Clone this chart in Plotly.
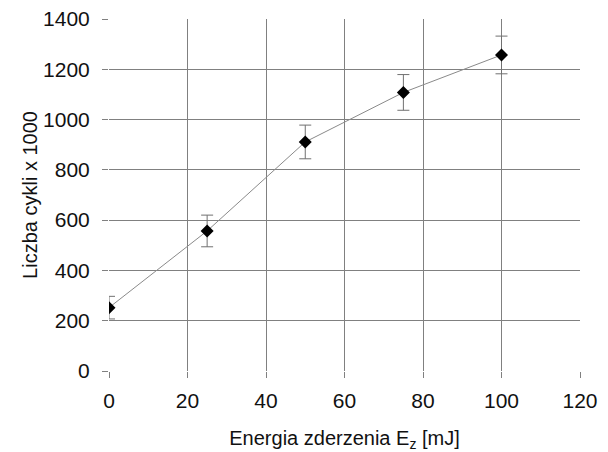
import plotly.graph_objects as go

energy = [0, 25, 50, 75, 100]
cycles = [252, 557, 911, 1108, 1257]
err = [45, 63, 67, 71, 75]

x_ticks = [0, 20, 40, 60, 80, 100, 120]
y_ticks = [0, 200, 400, 600, 800, 1000, 1200, 1400]

fig = go.Figure()
fig.add_trace(go.Scatter(
    x=energy, y=cycles, mode="lines+markers",
    line=dict(color="#8a8a8a", width=1),
    marker=dict(symbol="diamond", size=10, color="black"),
    error_y=dict(type="data", array=err, visible=True, color="#707070", thickness=1, width=6),
    showlegend=False,
))

font = dict(family="Liberation Sans, Arial, sans-serif", size=21, color="#111111")
fig.update_layout(
    width=608, height=452,
    margin=dict(l=109, r=28, t=19, b=81),
    paper_bgcolor="white", plot_bgcolor="white",
    font=font,
    xaxis=dict(
        range=[0, 120], tickvals=x_ticks, ticktext=[str(v) for v in x_ticks],
        showgrid=True, gridcolor="#808080", gridwidth=1,
        zeroline=False, showline=False, automargin=False,
        ticks="outside", ticklen=6, tickcolor="#808080",
        ticklabelstandoff=5,
        tickfont=dict(size=21),
        title=dict(text="Energia zderzenia E<sub>z</sub> [mJ]", font=dict(size=20), standoff=22),
    ),
    yaxis=dict(
        range=[0, 1400], tickvals=y_ticks, ticktext=[str(v) for v in y_ticks],
        showgrid=True, gridcolor="#808080", gridwidth=1,
        zeroline=False, showline=False, automargin=False,
        ticks="outside", ticklen=6, tickcolor="#808080",
        ticklabelstandoff=8,
        tickfont=dict(size=21),
        title=dict(text="Liczba cykli x 1000", font=dict(size=20), standoff=0),
    ),
)

fig.write_html("out.html")
